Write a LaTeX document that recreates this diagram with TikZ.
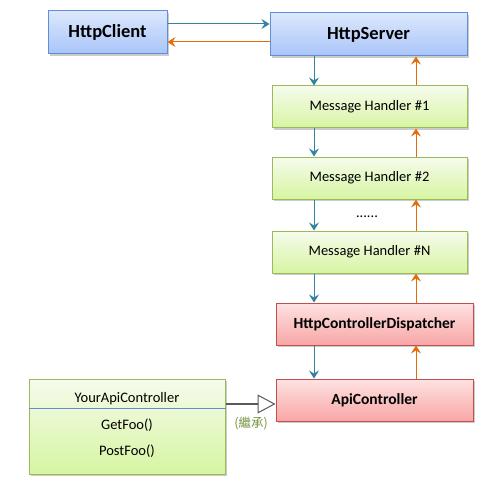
\documentclass[tikz,border=0pt]{standalone}
\usepackage{fontspec}
\setmainfont{Carlito}
\newfontfamily\cjk{Noto Sans CJK TC}
\usetikzlibrary{arrows.meta,shadows}

\definecolor{reqblue}{HTML}{31849B}
\definecolor{resorange}{HTML}{E36C09}
\definecolor{bluetop}{HTML}{DCE8FD}
\definecolor{bluebot}{HTML}{A8C4F8}
\definecolor{blueline}{HTML}{5F8FD6}
\definecolor{greentop}{HTML}{F6FBEC}
\definecolor{greenbot}{HTML}{D6F5A2}
\definecolor{greenline}{HTML}{9BBB59}
\definecolor{redtop}{HTML}{FEE2E2}
\definecolor{redbot}{HTML}{F8A6A6}
\definecolor{redline}{HTML}{C0504D}
\definecolor{inhgray}{HTML}{595959}
\definecolor{noteolive}{HTML}{76923C}

\tikzset{
    box/.style={draw, line width=1pt, inner sep=0pt, minimum height=42pt,
        drop shadow={shadow xshift=1.5pt, shadow yshift=-2pt, opacity=0.4}},
    hostbox/.style={box, draw=blueline, top color=bluetop, bottom color=bluebot,
        font=\fontsize{18.5}{21}\selectfont\bfseries},
    handlerbox/.style={box, draw=greenline, top color=greentop, bottom color=greenbot,
        minimum width=195pt, font=\fontsize{14.5}{16}\selectfont},
    ctrlbox/.style={box, draw=redline, top color=redtop, bottom color=redbot,
        minimum width=197pt, font=\fontsize{15.5}{17}\selectfont\bfseries},
    req/.style={draw=reqblue, line width=1pt, -{Stealth[length=8pt,width=10pt,inset=3pt,fill=reqblue]}},
    res/.style={draw=resorange, line width=1pt, -{Stealth[length=8pt,width=10pt,inset=3pt,fill=resorange]}},
    plain/.style={font=\fontsize{14.5}{16}\selectfont}
}

\begin{document}
\begin{tikzpicture}[x=1pt,y=-1pt]
    \useasboundingbox (0,0) rectangle (487,484);

    % hosts
    \node[hostbox, minimum width=119pt, minimum height=43pt] (client) at (107.5,32.5) {HttpClient};
    \node[hostbox, minimum width=197pt, minimum height=43pt] (server) at (368.5,34.5) {HttpServer};

    % message handler pipeline
    \node[handlerbox] (mh1) at (369.5,107) {Message Handler \#1};
    \node[handlerbox] (mh2) at (369.5,178) {Message Handler \#2};
    \node[plain] (dots) at (367,217) {......};
    \node[handlerbox] (mhn) at (369.5,252) {Message Handler \#N};
    \node[ctrlbox] (disp) at (374.5,324) {HttpControllerDispatcher};
    \node[ctrlbox] (api) at (374.5,400) {ApiController};

    % user controller
    \node[draw=greenline, line width=1pt, top color=greentop, bottom color=greenbot,
        minimum width=196pt, minimum height=95pt, inner sep=0pt,
        drop shadow={shadow xshift=1.5pt, shadow yshift=-2pt, opacity=0.4}] (yac) at (127,426.5) {};
    \draw[blueline, line width=0.8pt] ([yshift=-30pt]yac.north west) -- ([yshift=-30pt]yac.north east);
    \node[plain] (yacname) at (127,399) {YourApiController};
    \node[plain] (getfoo) at (127,425) {GetFoo()};
    \node[plain] (postfoo) at (127,451) {PostFoo()};

    % client <-> server
    \draw[req] ([yshift=8.5pt]client.east) -- ([yshift=8.5pt]client.east -| server.west);
    \draw[res] ([yshift=-7.5pt]server.west) -- ([yshift=-7.5pt]server.west -| client.east);

    % request down, response up
    \coordinate (dn) at (314,0);
    \coordinate (up) at (416,0);
    \foreach \a/\b in {server/mh1, mh1/mh2, mh2/mhn, mhn/disp, disp/api} {
        \draw[req] (\a.south -| dn) -- (\b.north -| dn);
        \draw[res] (\b.north -| up) -- (\a.south -| up);
    }

    % inheritance
    \draw[inhgray, line width=2pt, -{Triangle[open, length=18pt, width=19pt, line width=1pt, fill=white]}]
        ([yshift=22.5pt]yac.east) -- ([yshift=22.5pt]yac.east -| api.west);
    \node[noteolive, font=\cjk\fontsize{12.5}{14}\selectfont] (inh) at (251,423) {(繼承)};
\end{tikzpicture}
\end{document}
